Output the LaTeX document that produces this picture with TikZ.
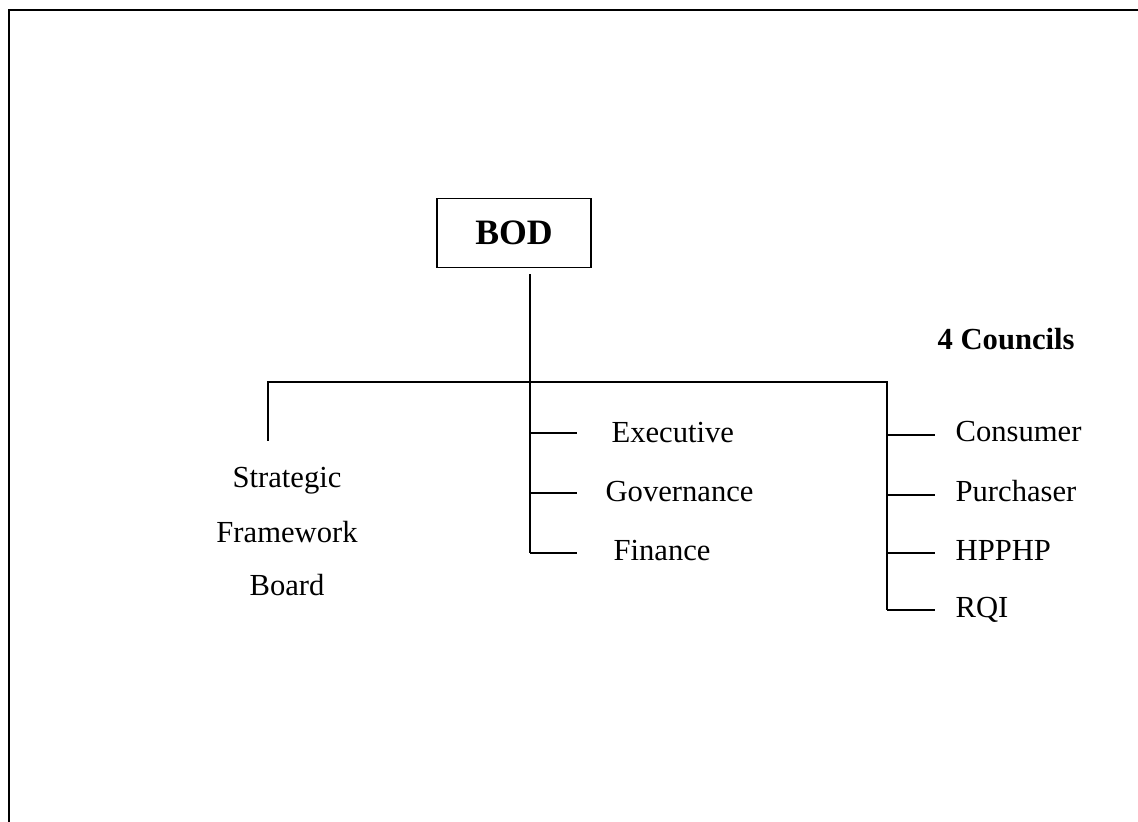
\documentclass[tikz,border=0pt]{standalone}
\usepackage{fontspec}
\setmainfont{Liberation Serif}
\usetikzlibrary{positioning}

\begin{document}
\begin{tikzpicture}[x=0.01378cm,y=-0.01378cm,line width=0.5pt,font=\fontsize{12}{14}\selectfont]
    \tikzstyle{board}=[draw,line width=0.6pt,minimum width=2.12cm,minimum height=0.95cm,inner sep=0pt,font=\fontsize{14}{16}\selectfont\bfseries]
    \tikzstyle{item}=[anchor=base west,inner sep=0pt]
    \tikzstyle{stack}=[anchor=base,inner sep=0pt]

    \useasboundingbox (0,0) rectangle (1138,822);
    \draw[line width=0.9pt] (9,822) -- (9,10) -- (1138,10);

    \node[board] (BOD) at (514,233) {BOD};

    \node[item,font=\fontsize{12}{14}\selectfont\bfseries] (C0) at (937,350) {4 Councils};

    \node[stack] (S1) at (287,488) {Strategic};
    \node[stack] (S2) at (287,542) {Framework};
    \node[stack] (S3) at (287,595) {Board};

    \node[item] (E1) at (611,443) {Executive};
    \node[item] (E2) at (605,502) {Governance};
    \node[item] (E3) at (613,560) {Finance};

    \node[item] (C1) at (955,442) {Consumer};
    \node[item] (C2) at (955,502) {Purchaser};
    \node[item] (C3) at (955,561) {HPPHP};
    \node[item] (C4) at (955,617) {RQI};

    \coordinate (J0) at (530,382);
    \coordinate (JL) at (268,382);
    \coordinate (JR) at (887,382);
    \coordinate (L1) at (268,441);
    \coordinate (M1) at (530,433);
    \coordinate (M2) at (530,493);
    \coordinate (M3) at (530,553);
    \coordinate (R1) at (887,435);
    \coordinate (R2) at (887,495);
    \coordinate (R3) at (887,553);
    \coordinate (R4) at (887,610);

    \draw[shorten <=2.4pt] (J0 |- BOD.south) -- (J0);
    \draw (L1) -- (JL) -- (JR) -- (R4);
    \draw (J0) -- (M3);

    \draw (M1) -- ++(47,0);
    \draw (M2) -- ++(47,0);
    \draw (M3) -- ++(47,0);
    \draw (R1) -- ++(48,0);
    \draw (R2) -- ++(48,0);
    \draw (R3) -- ++(48,0);
    \draw (R4) -- ++(48,0);
  \end{tikzpicture}
\end{document}
